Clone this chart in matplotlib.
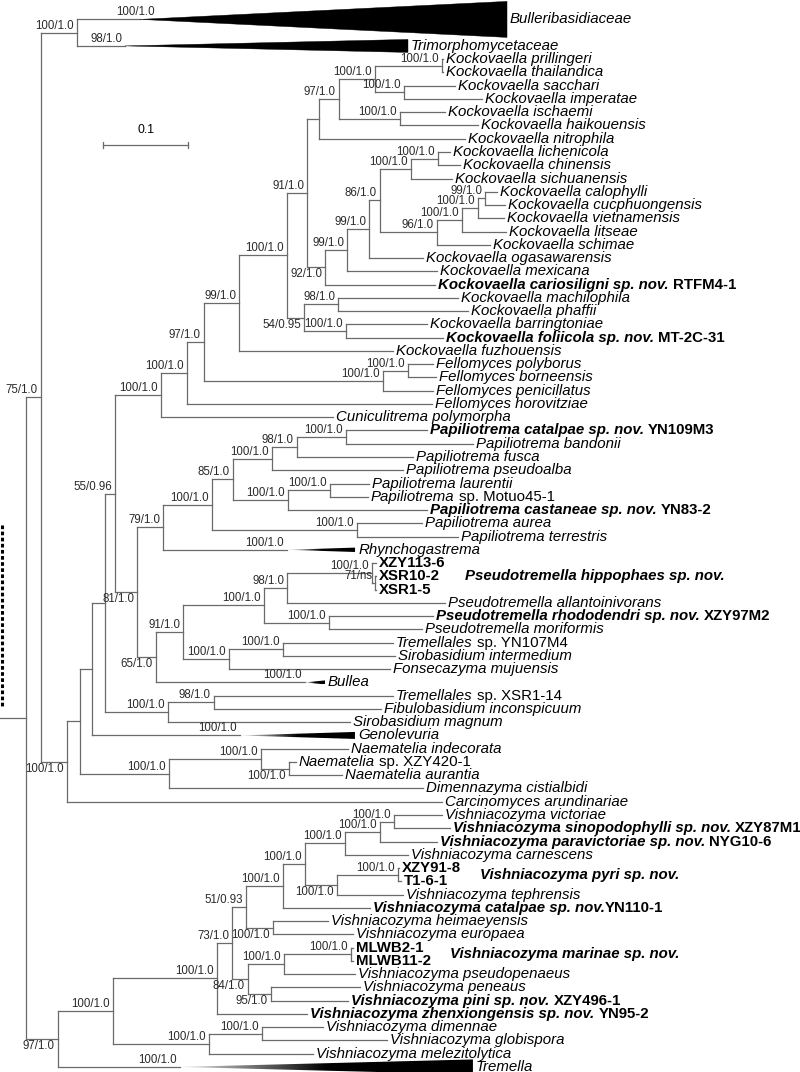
import matplotlib
matplotlib.use("Agg")
import matplotlib.pyplot as plt
import numpy as np
from matplotlib.collections import LineCollection
from matplotlib.patches import Polygon
from matplotlib.colors import LinearSegmentedColormap

# ============================ DATA ============================
# Branch lengths in substitutions/site (scale bar = 0.1)
kockovaella_clade = (
    "((((((((((Kockovaella prillingeri:0.0012,Kockovaella thailandica:0.0012)n442:0.0788,"
    "(Kockovaella sacchari:0.0600,Kockovaella imperatae:0.0918)n404:0.0341)n375:0.0424,"
    "(Kockovaella ischaemi:0.0529,Kockovaella haikouensis:0.0918)n400:0.0718)n339:0.0235,"
    "Kockovaella nitrophila:0.1718)n319:0.0141,"
    "((((((Kockovaella lichenicola:0.0141,Kockovaella chinensis:0.0259)n438:0.0318,"
    "Kockovaella sichuanensis:0.0482)n411:0.0365,"
    "((((Kockovaella calophylli:0.0141,Kockovaella cucphuongensis:0.0235)n485:0.0082,"
    "Kockovaella vietnamensis:0.0306)n478:0.0188,Kockovaella litseae:0.0518)n462:0.0294,"
    "Kockovaella schimae:0.0624)n437:0.0671)n380:0.0129,Kockovaella ogasawarensis:0.0635)n369:0.0259,"
    "Kockovaella mexicana:0.1059)n347:0.0259,"
    "Kockovaella cariosiligni sp. nov. RTFM4-1:0.1294)n325:0.0212)n307:0.0235,"
    "((Kockovaella machilophila:0.1412,Kockovaella phaffii:0.1529)n338:0.0400,"
    "(Kockovaella barringtoniae:0.0953,Kockovaella foliicola sp. nov. MT-2C-31:0.1141)n346:0.0494)n304:0.0200)n287:0.0565,"
    "Kockovaella fuzhouensis:0.1812)n239:0.0412,"
    "((Fellomyces polyborus:0.0294,Fellomyces borneensis:0.0329)n408:0.0294,"
    "Fellomyces penicillatus:0.0588)n383:0.2106)n204:0.0200,"
    "Fellomyces horovitziae:0.2882)n187:0.0306,Cuniculitrema polymorpha:0.2024)n161:0.0541"
)

papiliotrema_clade = (
    "(((((((Papiliotrema catalpae sp. nov. YN109M3:0.0953,Papiliotrema bandonii:0.1494)p346:0.0576,"
    "Papiliotrema fusca:0.1365)p297:0.0294,Papiliotrema pseudoalba:0.1541)p272:0.0459,"
    "((Papiliotrema laurentii:0.0459,Papiliotrema sp. Motuo45-1:0.0447)p330:0.0494,"
    "Papiliotrema castaneae sp. nov. YN83-2:0.1635)p288:0.0647)p233:0.0247,"
    "(Papiliotrema aurea:0.0765,Papiliotrema terrestris:0.1188)p357:0.1706)p212:0.0576,"
    "Rhynchogastrema:0.1459)p163:0.0306,"
    "(((((XZY113-6:0.0047,(XSR10-2:0.0012,XSR1-5:0.0012)p375:0.0035)p372:0.1000,"
    "Pseudotremella allantoinivorans:0.1859)p287:0.0271,"
    "(Pseudotremella rhododendri sp. nov. XZY97M2:0.1224,Pseudotremella moriformis:0.1094)p329:0.0765)p264:0.0953,"
    "((Tremellales sp. YN107M4:0.1294,Sirobasidium intermedium:0.1318)p283:0.0635,"
    "Fonsecazyma mujuensis:0.1894)p229:0.0541)p183:0.0318,Bullea:0.1753)p156:0.0224)p137:0.0259"
)

sirobasidium_clade = (
    "((Tremellales sp. XSR1-14:0.2106,Fibulobasidium inconspicuum:0.1965)n214:0.0541,"
    "Sirobasidium magnum:0.2141)n168:0.0741"
)

naematelia_clade = (
    "((Naematelia indecorata:0.1024,(Naematelia sp. XZY420-1:0.0082,Naematelia aurantia:0.0624)n289:0.0329)n261:0.1082,"
    "Dimennazyma cistialbidi:0.2988)n169:0.1047"
)

vishniacozyma_clade = (
    "((((((((((Vishniacozyma victoriae:0.0565,Vishniacozyma sinopodophylli sp. nov. XZY87M1:0.0659)v394:0.0165,"
    "Vishniacozyma paravictoriae sp. nov. NYG10-6:0.0671)v380:0.0412,Vishniacozyma carnescens:0.0741)v345:0.0471,"
    "((XZY91-8:0.0012,T1-6-1:0.0035)v398:0.0718,Vishniacozyma tephrensis:0.0776)v337:0.0376)v305:0.0259,"
    "Vishniacozyma catalpae sp. nov.YN110-1:0.1024)v283:0.0435,"
    "(Vishniacozyma heimaeyensis:0.0647,Vishniacozyma europaea:0.0941)v273:0.0318)v246:0.0165,"
    "(((MLWB2-1:0.0024,MLWB11-2:0.0024)v351:0.0788,Vishniacozyma pseudopenaeus:0.0835)v284:0.0424,"
    "(Vishniacozyma peneaus:0.1047,Vishniacozyma pini sp. nov. XZY496-1:0.0906)v271:0.0271)v248:0.0188)v232:0.0176,"
    "Vishniacozyma zhenxiongensis sp. nov. YN95-2:0.1059)v217:0.1224,"
    "((Vishniacozyma dimennae:0.0718,Vishniacozyma globispora:0.1471)v262:0.0624,"
    "Vishniacozyma melezitolytica:0.1224)v209:0.1129)v113:0.0647,Tremella:0.1435)v58:0.0376"
)

tree_newick = (
    "(((Bulleribasidiaceae:0.0741,Trimorphomycetaceae:0.0565)nA:0.0424,"
    "(((((" + kockovaella_clade + "," + papiliotrema_clade + ")n115:0.0118,"
    + sirobasidium_clade + ")n105:0.0153,Genolevuria:0.1741)n92:0.0141,"
    + naematelia_clade + ")n80:0.0153,Carcinomyces arundinariae:0.4412)n67:0.0306)n41:0.0176,"
    + vishniacozyma_clade + ")root;"
)

# collapsed clades: depth of the wedge (substitutions/site)
collapsed_depth = {
    "Bulleribasidiaceae": 0.4318,
    "Trimorphomycetaceae": 0.3329,
    "Rhynchogastrema": 0.0800,
    "Bullea": 0.0235,
    "Genolevuria": 0.1353,
    "Tremella": 0.3447,
}

supports = {
    "nA": "100/1.0", "Bulleribasidiaceae": "100/1.0", "Trimorphomycetaceae": "98/1.0",
    "n41": "75/1.0", "n67": "100/1.0", "n115": "55/0.96", "n161": "100/1.0",
    "n187": "100/1.0", "n204": "97/1.0", "n239": "99/1.0", "n287": "100/1.0",
    "n307": "91/1.0", "n339": "97/1.0", "n375": "100/1.0", "n442": "100/1.0",
    "n404": "100/1.0", "n400": "100/1.0", "n325": "92/1.0", "n347": "99/1.0",
    "n369": "99/1.0", "n380": "86/1.0", "n411": "100/1.0", "n438": "100/1.0",
    "n437": "96/1.0", "n462": "100/1.0", "n478": "100/1.0", "n485": "99/1.0",
    "n304": "54/0.95", "n338": "98/1.0", "n346": "100/1.0", "n383": "100/1.0",
    "n408": "100/1.0",
    "p137": "81/1.0", "p163": "79/1.0", "p212": "100/1.0", "p233": "85/1.0",
    "p272": "100/1.0", "p297": "98/1.0", "p346": "100/1.0", "p288": "100/1.0",
    "p330": "100/1.0", "p357": "100/1.0", "Rhynchogastrema": "100/1.0",
    "p156": "65/1.0", "p183": "91/1.0", "p264": "100/1.0", "p287": "98/1.0",
    "p372": "100/1.0", "p375": "71/ns", "p329": "100/1.0", "p229": "100/1.0",
    "p283": "100/1.0", "Bullea": "100/1.0",
    "n168": "100/1.0", "n214": "98/1.0", "Genolevuria": "100/1.0",
    "n169": "100/1.0", "n261": "100/1.0", "n289": "100/1.0",
    "v58": "97/1.0", "v113": "100/1.0", "v217": "100/1.0", "v209": "100/1.0",
    "v262": "100/1.0", "Tremella": "100/1.0", "v232": "73/1.0", "v246": "51/0.93",
    "v283": "100/1.0", "v305": "100/1.0", "v345": "100/1.0", "v380": "100/1.0",
    "v394": "100/1.0", "v337": "100/1.0", "v398": "100/1.0", "v273": "100/1.0",
    "v248": "84/1.0", "v284": "100/1.0", "v351": "100/1.0", "v271": "95/1.0",
}

strain_tips = ["XZY113-6", "XSR10-2", "XSR1-5", "XZY91-8", "T1-6-1", "MLWB2-1", "MLWB11-2"]

group_labels = [
    ("Pseudotremella hippophaes sp. nov.", ["XZY113-6", "XSR10-2", "XSR1-5"]),
    ("Vishniacozyma pyri sp. nov.", ["XZY91-8", "T1-6-1"]),
    ("Vishniacozyma marinae sp. nov.", ["MLWB2-1", "MLWB11-2"]),
]

scale_bar_length = 0.1
scale_bar_text = "0.1"

# ============================ STYLE / LAYOUT ============================
W, H, DPI = 800, 1072, 100
PX_PER_UNIT = 850.0      # pixels per substitution/site
ROOT_PX = 26.0           # x pixel of root
ROW_PX = 13.26           # vertical spacing between tips
FIRST_ROW_PX = 19.4
FONT = "Liberation Sans"
TIP_SIZE = 10.8
SUP_SIZE = 8.3
LINE_COLOR = "#6a6a6a"
LW = 0.9
GROUP_GAP_PX = 19

labels_below = {"n67", "n325", "n304", "p137", "p156", "n289", "v58", "v337",
                "v273", "v248", "v271"}
support_shift_px = {"Bulleribasidiaceae": 18}
extra_rows_after = {"Bulleribasidiaceae": 1}
wedge_half_px = {"Bulleribasidiaceae": 18, "Trimorphomycetaceae": 6.5,
                 "Rhynchogastrema": 2.2, "Bullea": 2.0, "Genolevuria": 3.5,
                 "Tremella": 7.5}
gradient_wedges = {"Rhynchogastrema", "Bullea", "Genolevuria", "Tremella"}


def parse_newick(s):
    s = s.strip().rstrip(";")
    pos = 0

    def node_():
        nonlocal pos
        node = {"children": [], "name": "", "length": 0.0}
        if s[pos] == "(":
            pos += 1
            while True:
                node["children"].append(node_())
                if s[pos] == ",":
                    pos += 1
                    continue
                if s[pos] == ")":
                    pos += 1
                    break
        start = pos
        while pos < len(s) and s[pos] not in ",():":
            pos += 1
        node["name"] = s[start:pos].strip()
        if pos < len(s) and s[pos] == ":":
            pos += 1
            start = pos
            while pos < len(s) and s[pos] not in ",()":
                pos += 1
            node["length"] = float(s[start:pos])
        return node

    return node_()


tree = parse_newick(tree_newick)


def layout(node, x0, counter):
    node["x"] = x0 + node["length"]
    if node["children"]:
        for c in node["children"]:
            layout(c, node["x"], counter)
        node["y"] = (node["children"][0]["y"] + node["children"][-1]["y"]) / 2.0
    else:
        node["y"] = counter[0]
        counter[0] += 1 + extra_rows_after.get(node["name"], 0)


layout(tree, 0.0, [0])

fig = plt.figure(figsize=(W / DPI, H / DPI), dpi=DPI)
ax = fig.add_axes([0, 0, 1, 1])
ax.set_axis_off()
xlim = (-ROOT_PX / PX_PER_UNIT, (W - ROOT_PX) / PX_PER_UNIT)
ylim = ((H - FIRST_ROW_PX) / ROW_PX, -FIRST_ROW_PX / ROW_PX)
ax.set_xlim(*xlim)
ax.set_ylim(*ylim)
renderer = fig.canvas.get_renderer()

DX = 1.0 / PX_PER_UNIT
DY = 1.0 / ROW_PX

segs = []
nodes_all = []


def collect(node):
    nodes_all.append(node)
    if node["children"]:
        ys = [c["y"] for c in node["children"]]
        segs.append([(node["x"], min(ys)), (node["x"], max(ys))])
        for c in node["children"]:
            segs.append([(node["x"], c["y"]), (c["x"], c["y"])])
            collect(c)


collect(tree)
# root stub
segs.append([(xlim[0], tree["y"]), (tree["x"], tree["y"])])
ax.add_collection(LineCollection(segs, colors=LINE_COLOR, linewidths=LW,
                                 capstyle="projecting", zorder=2))

gcmap = LinearSegmentedColormap.from_list("g", ["#e0e0e0", "#000000", "#000000"])


def draw_wedge(name, x0, y, depth):
    hh = wedge_half_px[name] * DY
    verts = [(x0, y), (x0 + depth, y - hh), (x0 + depth, y + hh)]
    if name in gradient_wedges:
        poly = Polygon(verts, closed=True, facecolor="none", edgecolor="none")
        ax.add_patch(poly)
        grad = np.linspace(0, 1, 256)[None, :]
        im = ax.imshow(grad, cmap=gcmap, extent=(x0, x0 + depth, y + hh, y - hh),
                       aspect="auto", interpolation="bilinear", zorder=3)
        im.set_clip_path(poly)
    else:
        ax.add_patch(Polygon(verts, closed=True, facecolor="black",
                             edgecolor="black", linewidth=0.3, zorder=3))


def tip_segments(name):
    if name in strain_tips:
        return [(name, "bold", "normal", False)]
    if "sp. nov." in name:
        i = name.index("sp. nov.") + len("sp. nov.")
        head, tail = name[:i], name[i:]
        out = [(head, "bold", "italic", False)]
        if tail:
            out.append((tail.strip(), "bold", "normal", tail.startswith(" ")))
        return out
    if " sp. " in name:
        g, rest = name.split(" sp. ", 1)
        return [(g, "normal", "italic", False), ("sp. " + rest, "normal", "normal", True)]
    return [(name, "normal", "italic", False)]


def draw_segments(x, y, parts, size, dx_px):
    off = dx_px
    space = size * DPI / 72.0 * 0.278
    for text, weight, style, sp in parts:
        if sp:
            off += space
        t = ax.annotate(text, (x, y), xytext=(off, 0), textcoords="offset pixels",
                        ha="left", va="center", fontsize=size, fontweight=weight,
                        fontstyle=style, family=FONT, color="black", zorder=4,
                        annotation_clip=False)
        off += t.get_window_extent(renderer).width
    return off


tip_right_px = {}
for nd in nodes_all:
    if nd["children"]:
        continue
    name = nd["name"]
    xe = nd["x"]
    if name in collapsed_depth:
        draw_wedge(name, nd["x"], nd["y"], collapsed_depth[name])
        xe = nd["x"] + collapsed_depth[name]
    end = draw_segments(xe, nd["y"], tip_segments(name), TIP_SIZE, 3)
    tip_right_px[name] = (xe, end)

# support values
for nd in nodes_all:
    lab = supports.get(nd["name"])
    if not lab:
        continue
    below = nd["name"] in labels_below
    ax.annotate(lab, (nd["x"], nd["y"]),
                xytext=(-3 + support_shift_px.get(nd["name"], 0), -1 if below else 1),
                textcoords="offset pixels", ha="right",
                va="top" if below else "bottom", fontsize=SUP_SIZE,
                family=FONT, color="#2a2a2a", zorder=4, annotation_clip=False)

# group labels for multi-strain species
tips_by_name = {nd["name"]: nd for nd in nodes_all if not nd["children"]}
for label, members in group_labels:
    ys = [tips_by_name[m]["y"] for m in members]
    rights = []
    for m in members:
        xe, end = tip_right_px[m]
        rights.append(ax.transData.transform((xe, 0))[0] + end)
    xr = max(rights) + GROUP_GAP_PX
    xd = ax.transData.inverted().transform((xr, 0))[0]
    ax.text(xd, (min(ys) + max(ys)) / 2.0, label, ha="left", va="center",
            fontsize=TIP_SIZE, fontweight="bold", fontstyle="italic", family=FONT)

# scale bar
sb_x0 = (103 - ROOT_PX) * DX
sb_y = (145 - FIRST_ROW_PX) * DY
ax.plot([sb_x0, sb_x0 + scale_bar_length], [sb_y, sb_y], color=LINE_COLOR, lw=LW)
for xx in (sb_x0, sb_x0 + scale_bar_length):
    ax.plot([xx, xx], [sb_y - 3 * DY, sb_y + 3 * DY], color=LINE_COLOR, lw=LW)
ax.text(sb_x0 + scale_bar_length / 2, sb_y - 15 * DY, scale_bar_text, ha="center",
        va="center", fontsize=8.8, family=FONT)

# dashed marker at the far left
ax.plot([-24 * DX] * 2, [(525 - FIRST_ROW_PX) * DY, (708 - FIRST_ROW_PX) * DY],
        color="black", lw=2.2, linestyle=(0, (1.2, 0.8)), solid_capstyle="butt")

ax.set_xlim(*xlim)
ax.set_ylim(*ylim)
fig.savefig("out.png", dpi=DPI, facecolor="white")
